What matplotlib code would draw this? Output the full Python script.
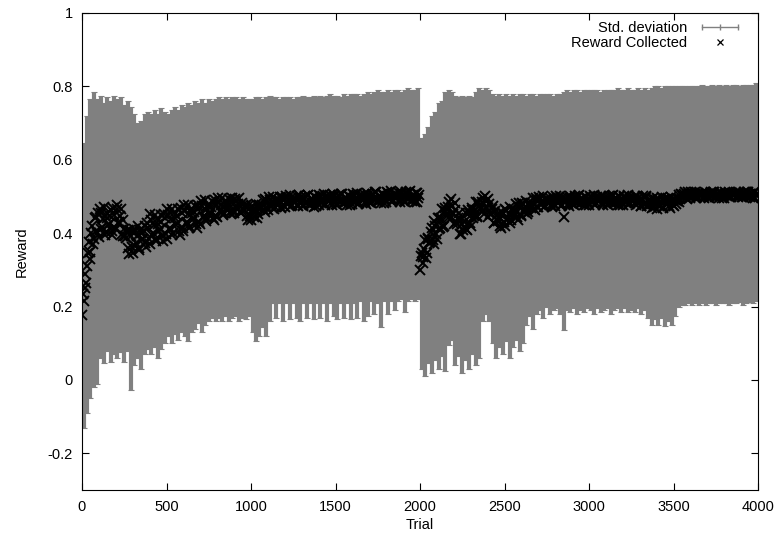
import numpy as np
import matplotlib
matplotlib.use("Agg")
import matplotlib.pyplot as plt
from matplotlib.lines import Line2D
from matplotlib.legend_handler import HandlerLine2D
from matplotlib.ticker import FormatStrFormatter, MultipleLocator

plt.rcParams['font.family'] = ['Liberation Sans', 'DejaVu Sans']
plt.rcParams['axes.unicode_minus'] = False

# --- Dados ---
# media da recompensa, a cada 5 ensaios (0..3995), uma linha = 100 ensaios
reward = np.array([
    0.177, 0.235, 0.215, 0.250, 0.290, 0.265, 0.310, 0.345, 0.375, 0.330, 0.350, 0.400, 0.420, 0.370, 0.385, 0.440, 0.445, 0.405, 0.400, 0.455,
    0.390, 0.466, 0.454, 0.410, 0.418, 0.438, 0.470, 0.394, 0.402, 0.454, 0.442, 0.422, 0.426, 0.446, 0.462, 0.406, 0.394, 0.468, 0.450, 0.414,
    0.410, 0.477, 0.466, 0.428, 0.430, 0.447, 0.465, 0.399, 0.391, 0.436, 0.410, 0.393, 0.386, 0.404, 0.408, 0.359, 0.343, 0.408, 0.392, 0.361,
    0.345, 0.412, 0.402, 0.365, 0.372, 0.391, 0.420, 0.355, 0.360, 0.409, 0.400, 0.383, 0.385, 0.406, 0.420, 0.373, 0.362, 0.429, 0.415, 0.384,
    0.370, 0.451, 0.435, 0.395, 0.400, 0.423, 0.450, 0.379, 0.385, 0.439, 0.425, 0.407, 0.410, 0.431, 0.450, 0.391, 0.378, 0.453, 0.440, 0.399,
    0.385, 0.466, 0.450, 0.410, 0.415, 0.438, 0.465, 0.394, 0.400, 0.454, 0.442, 0.422, 0.428, 0.446, 0.465, 0.406, 0.395, 0.468, 0.455, 0.414,
    0.405, 0.477, 0.462, 0.428, 0.430, 0.452, 0.478, 0.414, 0.418, 0.466, 0.455, 0.438, 0.442, 0.459, 0.475, 0.424, 0.415, 0.478, 0.468, 0.431,
    0.425, 0.487, 0.475, 0.445, 0.447, 0.466, 0.490, 0.433, 0.440, 0.478, 0.470, 0.454, 0.458, 0.472, 0.487, 0.442, 0.436, 0.489, 0.480, 0.448,
    0.445, 0.495, 0.485, 0.460, 0.463, 0.477, 0.497, 0.450, 0.455, 0.487, 0.482, 0.467, 0.470, 0.482, 0.493, 0.457, 0.452, 0.496, 0.488, 0.462,
    0.455, 0.493, 0.487, 0.465, 0.469, 0.479, 0.495, 0.457, 0.456, 0.482, 0.476, 0.466, 0.463, 0.473, 0.476, 0.448, 0.437, 0.474, 0.465, 0.447,
    0.435, 0.473, 0.467, 0.445, 0.454, 0.464, 0.480, 0.442, 0.451, 0.477, 0.476, 0.466, 0.468, 0.478, 0.491, 0.463, 0.457, 0.494, 0.490, 0.472,
    0.462, 0.498, 0.491, 0.473, 0.475, 0.486, 0.498, 0.466, 0.470, 0.493, 0.487, 0.478, 0.481, 0.489, 0.499, 0.471, 0.468, 0.499, 0.494, 0.475,
    0.471, 0.502, 0.497, 0.480, 0.482, 0.491, 0.503, 0.474, 0.476, 0.498, 0.492, 0.485, 0.486, 0.494, 0.501, 0.478, 0.473, 0.503, 0.496, 0.482,
    0.489, 0.476, 0.474, 0.497, 0.500, 0.484, 0.483, 0.503, 0.505, 0.479, 0.478, 0.492, 0.494, 0.483, 0.472, 0.500, 0.499, 0.474, 0.486, 0.494,
    0.476, 0.505, 0.502, 0.483, 0.487, 0.494, 0.506, 0.477, 0.480, 0.501, 0.496, 0.488, 0.490, 0.497, 0.505, 0.481, 0.477, 0.506, 0.500, 0.485,
    0.493, 0.479, 0.478, 0.500, 0.503, 0.487, 0.486, 0.506, 0.508, 0.482, 0.481, 0.495, 0.497, 0.486, 0.476, 0.503, 0.502, 0.477, 0.489, 0.497,
    0.479, 0.508, 0.505, 0.486, 0.490, 0.497, 0.509, 0.480, 0.483, 0.504, 0.499, 0.491, 0.493, 0.500, 0.508, 0.484, 0.480, 0.509, 0.503, 0.488,
    0.497, 0.485, 0.483, 0.505, 0.508, 0.493, 0.491, 0.511, 0.513, 0.488, 0.486, 0.500, 0.502, 0.491, 0.481, 0.508, 0.507, 0.483, 0.494, 0.502,
    0.485, 0.513, 0.509, 0.492, 0.495, 0.502, 0.515, 0.486, 0.489, 0.508, 0.504, 0.496, 0.498, 0.505, 0.512, 0.490, 0.486, 0.513, 0.507, 0.493,
    0.500, 0.487, 0.486, 0.507, 0.511, 0.495, 0.493, 0.513, 0.514, 0.490, 0.488, 0.502, 0.504, 0.493, 0.484, 0.510, 0.509, 0.485, 0.497, 0.504,
    0.300, 0.337, 0.345, 0.320, 0.335, 0.356, 0.380, 0.333, 0.345, 0.388, 0.385, 0.374, 0.375, 0.402, 0.415, 0.382, 0.370, 0.434, 0.420, 0.398,
    0.385, 0.442, 0.440, 0.410, 0.415, 0.441, 0.465, 0.418, 0.420, 0.468, 0.460, 0.449, 0.448, 0.472, 0.485, 0.447, 0.438, 0.494, 0.475, 0.453,
    0.425, 0.482, 0.463, 0.430, 0.426, 0.441, 0.455, 0.398, 0.399, 0.438, 0.424, 0.409, 0.417, 0.432, 0.454, 0.412, 0.408, 0.464, 0.455, 0.428,
    0.420, 0.468, 0.463, 0.440, 0.447, 0.464, 0.485, 0.444, 0.447, 0.485, 0.474, 0.468, 0.465, 0.485, 0.495, 0.462, 0.452, 0.502, 0.487, 0.468,
    0.445, 0.492, 0.480, 0.453, 0.452, 0.465, 0.475, 0.428, 0.428, 0.460, 0.448, 0.435, 0.432, 0.445, 0.455, 0.420, 0.413, 0.459, 0.452, 0.430,
    0.420, 0.467, 0.462, 0.435, 0.442, 0.453, 0.472, 0.427, 0.435, 0.467, 0.460, 0.448, 0.453, 0.464, 0.480, 0.443, 0.437, 0.482, 0.472, 0.450,
    0.447, 0.483, 0.480, 0.457, 0.462, 0.472, 0.488, 0.452, 0.458, 0.482, 0.478, 0.469, 0.473, 0.481, 0.495, 0.466, 0.462, 0.497, 0.490, 0.472,
    0.470, 0.499, 0.494, 0.478, 0.481, 0.488, 0.500, 0.472, 0.475, 0.494, 0.490, 0.482, 0.484, 0.491, 0.497, 0.476, 0.472, 0.499, 0.493, 0.479,
    0.474, 0.501, 0.496, 0.481, 0.484, 0.491, 0.502, 0.475, 0.478, 0.496, 0.443, 0.485, 0.487, 0.494, 0.499, 0.480, 0.475, 0.501, 0.495, 0.482,
    0.490, 0.480, 0.477, 0.497, 0.500, 0.486, 0.485, 0.502, 0.503, 0.482, 0.481, 0.493, 0.494, 0.485, 0.478, 0.499, 0.499, 0.478, 0.487, 0.494,
    0.477, 0.502, 0.498, 0.484, 0.486, 0.493, 0.503, 0.478, 0.481, 0.498, 0.494, 0.487, 0.489, 0.495, 0.500, 0.482, 0.478, 0.502, 0.497, 0.485,
    0.491, 0.480, 0.478, 0.497, 0.501, 0.486, 0.485, 0.502, 0.503, 0.482, 0.482, 0.493, 0.495, 0.485, 0.477, 0.499, 0.500, 0.478, 0.488, 0.494,
    0.477, 0.501, 0.498, 0.485, 0.486, 0.492, 0.503, 0.479, 0.481, 0.497, 0.494, 0.488, 0.489, 0.496, 0.500, 0.481, 0.478, 0.501, 0.497, 0.486,
    0.488, 0.473, 0.474, 0.492, 0.500, 0.480, 0.480, 0.498, 0.501, 0.475, 0.477, 0.487, 0.491, 0.479, 0.468, 0.494, 0.496, 0.471, 0.482, 0.490,
    0.467, 0.497, 0.493, 0.475, 0.478, 0.486, 0.499, 0.469, 0.472, 0.493, 0.488, 0.480, 0.481, 0.489, 0.496, 0.473, 0.468, 0.498, 0.491, 0.477,
    0.473, 0.492, 0.491, 0.480, 0.487, 0.492, 0.505, 0.486, 0.493, 0.506, 0.505, 0.500, 0.502, 0.507, 0.511, 0.497, 0.494, 0.513, 0.508, 0.499,
    0.496, 0.511, 0.509, 0.500, 0.502, 0.506, 0.512, 0.497, 0.498, 0.509, 0.506, 0.502, 0.503, 0.507, 0.510, 0.499, 0.497, 0.512, 0.508, 0.501,
    0.505, 0.498, 0.497, 0.508, 0.511, 0.502, 0.500, 0.511, 0.512, 0.499, 0.498, 0.506, 0.507, 0.501, 0.496, 0.510, 0.510, 0.496, 0.503, 0.506,
    0.497, 0.512, 0.510, 0.501, 0.503, 0.507, 0.513, 0.498, 0.499, 0.510, 0.507, 0.503, 0.504, 0.508, 0.511, 0.500, 0.498, 0.513, 0.509, 0.502,
    0.506, 0.499, 0.498, 0.509, 0.512, 0.503, 0.501, 0.512, 0.513, 0.500, 0.499, 0.507, 0.508, 0.502, 0.497, 0.511, 0.511, 0.497, 0.504, 0.507,
])
trials = np.arange(0, 4000, 5)

# limites do desvio padrao, a cada 20 ensaios (10..3990)
std_upper = np.array([
    0.645, 0.720, 0.765, 0.785, 0.765, 0.775, 0.755, 0.770, 0.760, 0.775,
    0.765, 0.770, 0.750, 0.760, 0.745, 0.725, 0.700, 0.705, 0.725, 0.730,
    0.725, 0.735, 0.725, 0.740, 0.730, 0.725, 0.735, 0.745, 0.735, 0.750,
    0.745, 0.755, 0.750, 0.760, 0.755, 0.765, 0.755, 0.765, 0.760, 0.765,
    0.770, 0.765, 0.770, 0.765, 0.770, 0.770, 0.765, 0.770, 0.765, 0.765,
    0.765, 0.770, 0.770, 0.765, 0.770, 0.775, 0.770, 0.770, 0.765, 0.770,
    0.770, 0.770, 0.765, 0.770, 0.770, 0.775, 0.770, 0.770, 0.775, 0.770,
    0.775, 0.770, 0.775, 0.780, 0.775, 0.775, 0.770, 0.780, 0.775, 0.780,
    0.780, 0.780, 0.775, 0.780, 0.785, 0.780, 0.785, 0.790, 0.785, 0.785,
    0.790, 0.785, 0.790, 0.790, 0.785, 0.790, 0.795, 0.790, 0.790, 0.795,
    0.660, 0.670, 0.690, 0.720, 0.730, 0.755, 0.760, 0.785, 0.790, 0.785,
    0.775, 0.770, 0.775, 0.770, 0.775, 0.770, 0.785, 0.795, 0.790, 0.795,
    0.790, 0.780, 0.775, 0.780, 0.775, 0.780, 0.775, 0.780, 0.775, 0.780,
    0.780, 0.775, 0.780, 0.780, 0.775, 0.780, 0.780, 0.780, 0.780, 0.775,
    0.780, 0.780, 0.785, 0.790, 0.785, 0.790, 0.790, 0.785, 0.790, 0.790,
    0.790, 0.790, 0.790, 0.785, 0.790, 0.790, 0.790, 0.790, 0.795, 0.790,
    0.790, 0.795, 0.790, 0.790, 0.795, 0.790, 0.795, 0.790, 0.795, 0.800,
    0.800, 0.795, 0.800, 0.800, 0.800, 0.800, 0.800, 0.800, 0.800, 0.800,
    0.800, 0.800, 0.800, 0.805, 0.800, 0.800, 0.805, 0.800, 0.805, 0.800,
    0.805, 0.800, 0.805, 0.805, 0.800, 0.805, 0.805, 0.805, 0.805, 0.810,
])
std_lower = np.array([
    -0.130, -0.090, -0.050, -0.020, -0.010, 0.060, 0.045, 0.080, 0.050, 0.070,
    0.060, 0.075, 0.050, 0.080, -0.027, 0.040, 0.060, 0.030, 0.070, 0.085,
    0.070, 0.090, 0.060, 0.085, 0.100, 0.120, 0.100, 0.125, 0.110, 0.130,
    0.120, 0.105, 0.130, 0.140, 0.155, 0.130, 0.150, 0.160, 0.170, 0.160,
    0.170, 0.160, 0.175, 0.160, 0.170, 0.175, 0.160, 0.170, 0.165, 0.175,
    0.130, 0.105, 0.120, 0.145, 0.120, 0.160, 0.210, 0.170, 0.210, 0.160,
    0.210, 0.165, 0.210, 0.170, 0.160, 0.210, 0.170, 0.210, 0.165, 0.210,
    0.170, 0.210, 0.160, 0.210, 0.175, 0.165, 0.210, 0.170, 0.210, 0.165,
    0.210, 0.170, 0.215, 0.160, 0.175, 0.215, 0.180, 0.210, 0.145, 0.215,
    0.180, 0.215, 0.190, 0.215, 0.220, 0.185, 0.215, 0.220, 0.215, 0.220,
    0.030, 0.010, 0.045, 0.020, 0.055, 0.030, 0.065, 0.025, 0.095, 0.110,
    0.040, 0.065, 0.020, 0.055, 0.030, 0.070, 0.040, 0.060, 0.160, 0.180,
    0.160, 0.100, 0.060, 0.090, 0.070, 0.105, 0.060, 0.090, 0.110, 0.080,
    0.100, 0.150, 0.175, 0.140, 0.180, 0.190, 0.170, 0.200, 0.180, 0.190,
    0.195, 0.180, 0.135, 0.190, 0.185, 0.195, 0.180, 0.190, 0.185, 0.195,
    0.190, 0.180, 0.195, 0.185, 0.190, 0.195, 0.180, 0.190, 0.195, 0.185,
    0.195, 0.185, 0.190, 0.185, 0.195, 0.180, 0.190, 0.170, 0.150, 0.165,
    0.150, 0.170, 0.148, 0.160, 0.150, 0.175, 0.200, 0.205, 0.205, 0.210,
    0.205, 0.210, 0.205, 0.210, 0.205, 0.210, 0.210, 0.205, 0.210, 0.210,
    0.210, 0.205, 0.210, 0.210, 0.212, 0.205, 0.210, 0.212, 0.210, 0.215,
])
err_trials = np.arange(10, 4000, 20)

CINZA = '#808080'

fig = plt.figure(figsize=(7.78, 5.37), dpi=100)
ax = fig.add_axes([82 / 778, 1 - 490 / 537, 676 / 778, 477 / 537])

# barras de desvio padrao
centro = (std_upper + std_lower) / 2
ax.errorbar(err_trials, centro, yerr=[centro - std_lower, std_upper - centro],
            fmt='none', ecolor=CINZA, elinewidth=3.0, capsize=2.5, capthick=0.8)

# recompensa media
ax.plot(trials, reward, 'x', color='black', markersize=6.5, markeredgewidth=1.4)

ax.set_xlim(0, 4000)
ax.set_ylim(-0.3, 1.0)
ax.xaxis.set_major_locator(MultipleLocator(500))
ax.yaxis.set_major_locator(MultipleLocator(0.2))
ax.yaxis.set_major_formatter(FormatStrFormatter('%g'))
ax.tick_params(direction='in', length=5, width=0.8, top=True, right=True,
               labelsize=10.5)
ax.tick_params(axis='x', pad=7)
ax.tick_params(axis='y', pad=6.5)
for sp in ax.spines.values():
    sp.set_linewidth(0.8)

ax.set_xlabel('Trial', fontsize=10.5, labelpad=3)
ax.set_ylabel('Reward', fontsize=10.5, labelpad=14)

# legenda no estilo do gnuplot
h_std = Line2D([], [], color=CINZA, lw=1, marker='|', markersize=4, markeredgewidth=1)
h_rew = Line2D([], [], color='black', ls='none', marker='x', markersize=5, markeredgewidth=0.9)
ax.legend([h_std, h_rew], ['Std. deviation', 'Reward Collected'],
          handler_map={h_std: HandlerLine2D(numpoints=3), h_rew: HandlerLine2D(numpoints=1)},
          loc='upper right', bbox_to_anchor=(0.977, 0.984), borderpad=0, borderaxespad=0,
          markerfirst=False, frameon=False, fontsize=10.5, handlelength=3.1,
          handletextpad=0.7, labelspacing=0.08)

fig.savefig('out.png', dpi=100)
